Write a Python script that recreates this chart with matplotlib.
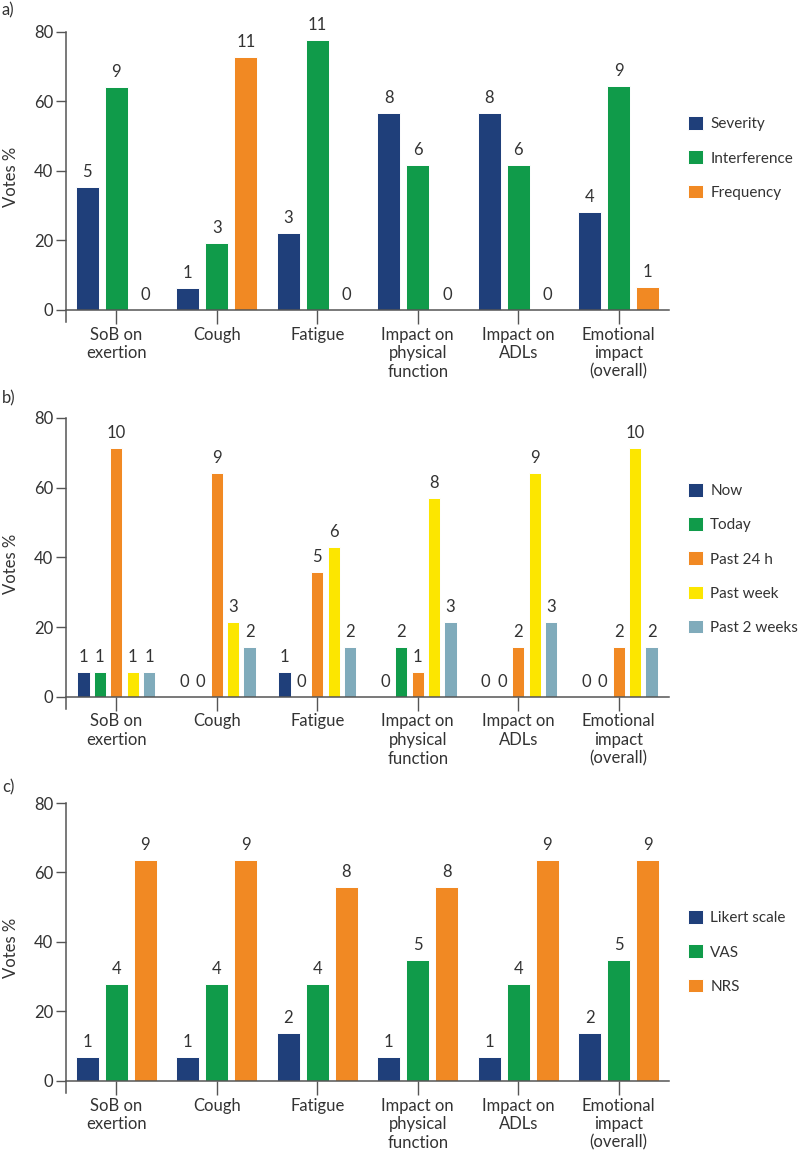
import matplotlib.pyplot as plt
import numpy as np

plt.rcParams['font.family'] = ['Lato', 'DejaVu Sans']
plt.rcParams['font.size'] = 11
plt.rcParams['xtick.labelsize'] = 12
plt.rcParams['ytick.labelsize'] = 12

categories = ['SoB on\nexertion', 'Cough', 'Fatigue', 'Impact on\nphysical\nfunction',
              'Impact on\nADLs', 'Emotional\nimpact\n(overall)']

# panel a) aspect of symptom
a_series = ['Severity', 'Interference', 'Frequency']
a_pct = [
    [35.5, 6.2, 22.1, 56.8, 56.8, 28.3],
    [64.2, 19.2, 77.8, 41.8, 41.8, 64.5],
    [0, 72.8, 0, 0, 0, 6.5],
]
a_votes = [
    [5, 1, 3, 8, 8, 4],
    [9, 3, 11, 6, 6, 9],
    [0, 11, 0, 0, 0, 1],
]

# panel b) recall period
b_series = ['Now', 'Today', 'Past 24 h', 'Past week', 'Past 2 weeks']
b_pct = [
    [7.1, 0, 7.1, 0, 0, 0],
    [7.1, 0, 0, 14.3, 0, 0],
    [71.3, 64.3, 35.7, 7.1, 14.3, 14.3],
    [7.1, 21.4, 42.9, 57.1, 64.3, 71.3],
    [7.1, 14.3, 14.3, 21.4, 21.4, 14.3],
]
b_votes = [
    [1, 0, 1, 0, 0, 0],
    [1, 0, 0, 2, 0, 0],
    [10, 9, 5, 1, 2, 2],
    [1, 3, 6, 8, 9, 10],
    [1, 2, 2, 3, 3, 2],
]

# panel c) response scale
c_series = ['Likert scale', 'VAS', 'NRS']
c_pct = [
    [6.8, 6.8, 13.9, 6.8, 6.8, 13.9],
    [27.8, 27.8, 27.8, 34.7, 27.8, 34.7],
    [63.5, 63.5, 55.8, 55.8, 63.5, 63.5],
]
c_votes = [
    [1, 1, 2, 1, 1, 2],
    [4, 4, 4, 5, 4, 5],
    [9, 9, 8, 8, 9, 9],
]

navy = '#1F3F7A'
green = '#109B4A'
orange = '#F18923'
yellow = '#FCE600'
teal = '#80ABBB'

a_colors = [navy, green, orange]
b_colors = [navy, green, orange, yellow, teal]
c_colors = [navy, green, orange]

W, H = 798, 1155
fig = plt.figure(figsize=(W / 100, H / 100), dpi=100)

axis_col = '#555555'
text_col = '#333333'
fs = 11
tfs = 12


def panel(top_px, bot_px, series, pct, votes, colors, width, step, leg_y_px, tag, tag_y):
    left, right = 66, 669
    ax = fig.add_axes([left / W, 1 - bot_px / H, (right - left) / W, (bot_px - top_px) / H])
    x = np.arange(len(categories))
    n = len(series)
    for i in range(n):
        off = (i - (n - 1) / 2) * step
        bars = ax.bar(x + off, pct[i], width, color=colors[i], edgecolor='white',
                      linewidth=0.7, label=series[i])
        for b, v in zip(bars, votes[i]):
            ax.annotate(str(v), (b.get_x() + b.get_width() / 2, b.get_height()),
                        xytext=(0, 5), textcoords='offset points', ha='center',
                        va='bottom', fontsize=tfs, color=text_col)
    ax.set_xlim(-0.5, len(categories) - 0.5)
    ax.set_ylim(-3.5, 80)
    ax.set_yticks([0, 20, 40, 60, 80])
    ax.set_xticks(x)
    ax.set_xticklabels(categories, linespacing=1.3)
    ax.tick_params(axis='y', labelsize=tfs, labelcolor=text_col, color=axis_col,
                   length=7, width=1, pad=2)
    ax.tick_params(axis='x', labelsize=tfs, labelcolor=text_col, color=axis_col,
                   length=10, width=1, pad=2)
    for s in ['top', 'right']:
        ax.spines[s].set_visible(False)
    ax.spines['bottom'].set_position(('data', 0))
    for s in ['left', 'bottom']:
        ax.spines[s].set_color(axis_col)
        ax.spines[s].set_linewidth(1.1)
    ax.set_ylabel('Votes %', fontsize=tfs, color=text_col)
    ax.yaxis.set_label_coords(-0.078, 0.5)
    ax.legend(loc='center left', bbox_to_anchor=(688 / W, 1 - leg_y_px / H),
              bbox_transform=fig.transFigure, frameon=False, fontsize=fs,
              handlelength=1.0, handleheight=1.0, handletextpad=0.45,
              labelspacing=1.25, borderpad=0, borderaxespad=0, labelcolor=text_col)
    fig.text(2 / W, 1 - tag_y / H, tag, fontsize=tfs, color=text_col, va='center', ha='left')
    return ax


panel(32, 322, a_series, a_pct, a_votes, a_colors, 0.23, 0.29, 158, 'a)', 10)
panel(418, 709, b_series, b_pct, b_votes, b_colors, 0.12, 0.163, 559, 'b)', 398)
panel(803, 1093, c_series, c_pct, c_votes, c_colors, 0.23, 0.29, 952, 'c)', 787)

fig.savefig('out.png', dpi=100)
